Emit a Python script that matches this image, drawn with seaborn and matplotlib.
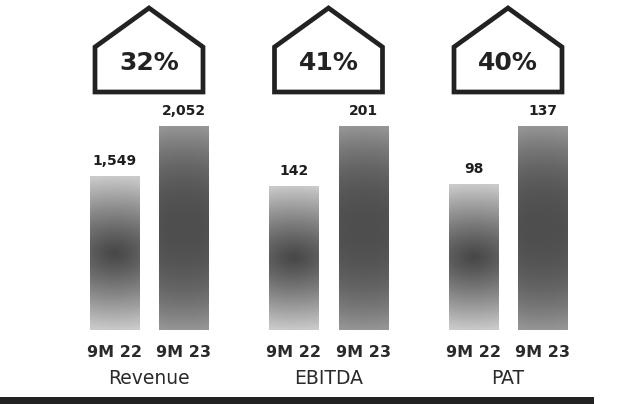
import numpy as np
import pandas as pd
import matplotlib
matplotlib.use("Agg")
import matplotlib.pyplot as plt
import matplotlib.colors as mcolors
from matplotlib.patches import Polygon, Rectangle
import seaborn as sns

# data
metrics = ["Revenue", "EBITDA", "PAT"]
periods = ["9M 22", "9M 23"]
values_22 = [1549, 142, 98]
values_23 = [2052, 201, 137]
value_labels_22 = ["1,549", "142", "98"]
value_labels_23 = ["2,052", "201", "137"]
growth = ["32%", "41%", "40%"]

sns.set_theme(style="white")
plt.rcParams["font.family"] = ["DejaVu Sans"]

rows = []
for i, m in enumerate(metrics):
    top = max(values_22[i], values_23[i])
    rows.append({"metric": m, "period": periods[0], "value": values_22[i],
                 "label": value_labels_22[i], "scaled": values_22[i] / top})
    rows.append({"metric": m, "period": periods[1], "value": values_23[i],
                 "label": value_labels_23[i], "scaled": values_23[i] / top})
df = pd.DataFrame(rows)

W, H = 636, 404
fig = plt.figure(figsize=(W / 100, H / 100), dpi=100)
ax = fig.add_axes([0, 0, 1, 1])

sns.barplot(data=df, x="metric", y="scaled", hue="period", order=metrics,
            hue_order=periods, width=0.77, gap=0.29,
            palette=["#aaaaaa", "#888888"], legend=False, ax=ax)

px_x = 179.5   # pixels per category
px_y = 204.0   # pixels per unit of scaled height
x_lo = -149 / px_x
y_lo = -74 / px_y
xlim = (x_lo, x_lo + W / px_x)
ylim = (y_lo, y_lo + H / px_y)

# radial gradient look of the bars: centre colour, edge colour, falloff
grad = {periods[0]: ("#484848", "#cacaca", 1.2),
        periods[1]: ("#4e4e4e", "#959595", 2.2)}

# seaborn draws the hue levels in order: all 9M 22 bars, then 9M 23
patches = list(ax.patches)
for k, patch in enumerate(patches):
    period = periods[k // len(metrics)]
    i = k % len(metrics)
    x0, w, h = patch.get_x(), patch.get_width(), patch.get_height()
    c_in, c_out, p = grad[period]
    c_in = np.array(mcolors.to_rgb(c_in))
    c_out = np.array(mcolors.to_rgb(c_out))
    yy, xx = np.mgrid[0:1:200j, 0:1:60j]
    d = np.sqrt(((xx - 0.5) / 2.2) ** 2 + ((yy - 0.5) / 0.5) ** 2)
    t = np.clip(d, 0, 1) ** p
    img = c_in[None, None, :] + (c_out - c_in)[None, None, :] * t[..., None]
    im = ax.imshow(img, extent=(x0, x0 + w, 0, h), origin="lower",
                   aspect="auto", zorder=3, interpolation="bilinear")
    im.set_clip_path(patch)
    patch.set_alpha(0)

    row = df[(df.metric == metrics[i]) & (df.period == period)].iloc[0]
    cx = x0 + w / 2
    ax.annotate(row["label"], (cx, h), xytext=(0, 6), textcoords="offset points",
                ha="center", va="bottom", fontsize=10, fontweight="bold",
                color="#1e1e1e")
    ax.annotate(period, (cx, 0), xytext=(0, -16), textcoords="offset points",
                ha="center", va="center", fontsize=11.5, fontweight="bold",
                color="#2a2a2a")

# category names and the house shaped growth badges
hw = 54 / px_x
peak = (396 - 74) / px_y
eave = (357 - 74) / px_y
base = (312 - 74) / px_y
for i, m in enumerate(metrics):
    ax.annotate(m, (i, 0), xytext=(0, -35), textcoords="offset points",
                ha="center", va="center", fontsize=13.5, color="#2a2a2a")
    house = Polygon([(i - hw, base), (i - hw, eave), (i, peak),
                     (i + hw, eave), (i + hw, base)], closed=True,
                    fill=False, edgecolor="#222222", linewidth=3.4,
                    joinstyle="miter", zorder=4)
    ax.add_patch(house)
    ax.text(i, (eave + base) / 2 + 0.03, growth[i], ha="center", va="center",
            fontsize=18, fontweight="bold", color="#222222")

ax.set_xlim(*xlim)
ax.set_ylim(*ylim)
ax.axis("off")

fig.patches.append(Rectangle((0, 0), 594 / W, 7 / H, transform=fig.transFigure,
                             facecolor="#222222", edgecolor="none"))

fig.savefig("out.png", dpi=100)
